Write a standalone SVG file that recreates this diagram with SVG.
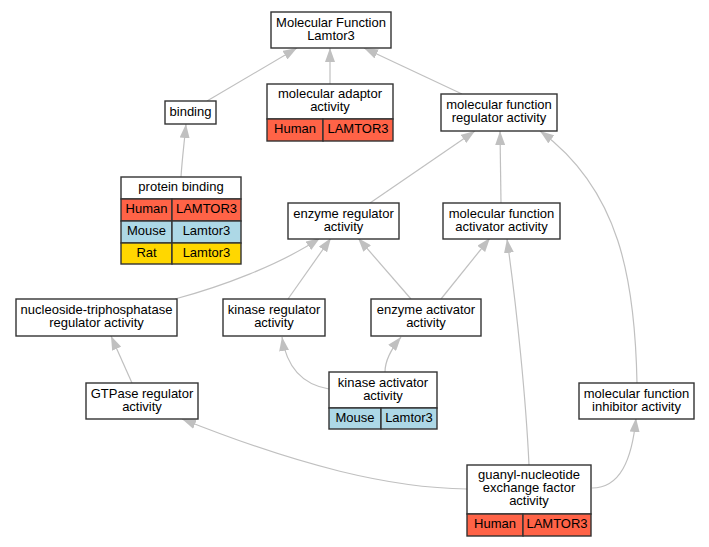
<svg xmlns="http://www.w3.org/2000/svg" width="709" height="547" viewBox="0 0 709 547">
<style>
.n,.h,.m,.r{stroke:#333;stroke-width:1.4}
.n{fill:#fff}
.h{fill:#ff6347}
.m{fill:#add8e6}
.r{fill:#ffd700}
text{font-family:"Liberation Sans",Arial,sans-serif;font-size:13px;fill:#000;text-anchor:middle}
.e path{fill:none;stroke:#c0c0c0;stroke-width:1.2;marker-end:url(#a)}
</style>
<defs>
<marker id="a" markerUnits="userSpaceOnUse" markerWidth="14" markerHeight="10" refX="14" refY="5" orient="auto" viewBox="0 0 14 10">
<path d="M0,0 L14,5 L0,10 z" fill="#c0c0c0"/>
</marker>
</defs>
<rect width="709" height="547" fill="#fff"/>
<g class="e" id="edges">
<path d="M207,101 L297,48"/>
<path d="M330,84 L330,48"/>
<path d="M462,94 L364,48"/>
<path d="M181,177 C182,160 184,145 186,124"/>
<path d="M370,203 L475,131"/>
<path d="M501,203 L500,131"/>
<path d="M637,383 C635,280 620,190 540,131"/>
<path d="M175,299 C220,287 280,265 320,238"/>
<path d="M288,299 L331,238"/>
<path d="M411,299 L358,238"/>
<path d="M441,299 L490,238"/>
<path d="M529,465 C526,400 517,310 507,239"/>
<path d="M132,383 L111,336"/>
<path d="M329,389 C305,385 287,370 282,337"/>
<path d="M385,372 C385,360 392,348 401,337"/>
<path d="M467,489 C390,488 300,466 182,419"/>
<path d="M592,488 C620,488 632,460 636,418"/>
</g>
<g id="mf">
<rect class="n" x="271" y="12" width="120" height="36"/>
<text x="331" y="26.5">Molecular Function</text>
<text x="331" y="39.5">Lamtor3</text>
</g>
<g id="binding">
<rect class="n" x="165" y="101" width="51" height="23"/>
<text x="190.5" y="115.5">binding</text>
</g>
<g id="adaptor">
<rect class="n" x="267" y="84" width="126" height="35"/>
<rect class="h" x="267" y="119" width="56" height="22"/>
<rect class="h" x="323" y="119" width="70" height="22"/>
<text x="330" y="98">molecular adaptor</text>
<text x="330" y="111">activity</text>
<text x="295" y="133">Human</text>
<text x="358" y="133">LAMTOR3</text>
</g>
<g id="mfreg">
<rect class="n" x="441" y="94" width="116" height="37"/>
<text x="499" y="109">molecular function</text>
<text x="499" y="122">regulator activity</text>
</g>
<g id="protein">
<rect class="n" x="121" y="177" width="120" height="22"/>
<rect class="h" x="121" y="199" width="51" height="22"/>
<rect class="h" x="172" y="199" width="69" height="22"/>
<rect class="m" x="121" y="221" width="51" height="22"/>
<rect class="m" x="172" y="221" width="69" height="22"/>
<rect class="r" x="121" y="243" width="51" height="21"/>
<rect class="r" x="172" y="243" width="69" height="21"/>
<text x="181" y="191">protein binding</text>
<text x="146.5" y="213">Human</text>
<text x="206.5" y="213">LAMTOR3</text>
<text x="146.5" y="235">Mouse</text>
<text x="206.5" y="235">Lamtor3</text>
<text x="146.5" y="256.5">Rat</text>
<text x="206.5" y="256.5">Lamtor3</text>
</g>
<g id="enzreg">
<rect class="n" x="288" y="203" width="111" height="36"/>
<text x="343.5" y="217.5">enzyme regulator</text>
<text x="343.5" y="230.5">activity</text>
</g>
<g id="mfact">
<rect class="n" x="443" y="203" width="117" height="36"/>
<text x="501.5" y="217.5">molecular function</text>
<text x="501.5" y="230.5">activator activity</text>
</g>
<g id="ntp">
<rect class="n" x="16" y="299" width="161" height="37"/>
<text x="96.5" y="314">nucleoside-triphosphatase</text>
<text x="96.5" y="327">regulator activity</text>
</g>
<g id="kinreg">
<rect class="n" x="223" y="299" width="102" height="37"/>
<text x="274" y="314">kinase regulator</text>
<text x="274" y="327">activity</text>
</g>
<g id="enzact">
<rect class="n" x="371" y="299" width="110" height="37"/>
<text x="426" y="314">enzyme activator</text>
<text x="426" y="327">activity</text>
</g>
<g id="gtpase">
<rect class="n" x="86" y="383" width="112" height="36"/>
<text x="142" y="397.5">GTPase regulator</text>
<text x="142" y="410.5">activity</text>
</g>
<g id="kinact">
<rect class="n" x="329" y="372" width="108" height="36"/>
<rect class="m" x="329" y="408" width="52" height="21"/>
<rect class="m" x="381" y="408" width="56" height="21"/>
<text x="383" y="386.5">kinase activator</text>
<text x="383" y="399.5">activity</text>
<text x="355" y="421.5">Mouse</text>
<text x="409" y="421.5">Lamtor3</text>
</g>
<g id="inhib">
<rect class="n" x="579" y="383" width="115" height="36"/>
<text x="636.5" y="397.5">molecular function</text>
<text x="636.5" y="410.5">inhibitor activity</text>
</g>
<g id="gef">
<rect class="n" x="467" y="465" width="124" height="49"/>
<rect class="h" x="467" y="514" width="56" height="22"/>
<rect class="h" x="523" y="514" width="68" height="22"/>
<text x="529" y="479">guanyl-nucleotide</text>
<text x="529" y="492.2">exchange factor</text>
<text x="529" y="505.4">activity</text>
<text x="495" y="528">Human</text>
<text x="557" y="528">LAMTOR3</text>
</g>
</svg>
